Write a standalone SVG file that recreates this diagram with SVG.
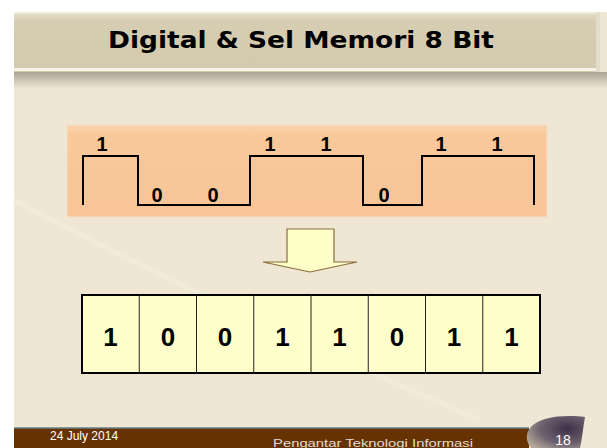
<svg xmlns="http://www.w3.org/2000/svg" width="607" height="448" viewBox="0 0 607 448">
<defs>
<linearGradient id="shadow" x1="0" y1="0" x2="0" y2="1">
<stop offset="0" stop-color="#a9a396"/>
<stop offset="1" stop-color="#ece4cf"/>
</linearGradient>
<linearGradient id="titleg" x1="0" y1="0" x2="0" y2="1">
<stop offset="0" stop-color="#e6dfc9"/>
<stop offset="0.15" stop-color="#d6cdb3"/>
<stop offset="1" stop-color="#d2c9ae"/>
</linearGradient>
<linearGradient id="orange" x1="0" y1="0" x2="0" y2="1">
<stop offset="0" stop-color="#fbd3ad"/>
<stop offset="0.1" stop-color="#f9c89b"/>
<stop offset="1" stop-color="#f7c597"/>
</linearGradient>
<radialGradient id="swoosh" cx="0.7" cy="0.4" r="0.8">
<stop offset="0" stop-color="#3d3048"/>
<stop offset="0.6" stop-color="#6e6370"/>
<stop offset="1" stop-color="#b6a99a"/>
</radialGradient>
<style>
.wl{font-family:"Liberation Sans",Arial,sans-serif;font-weight:bold;font-size:20px;fill:#000;text-anchor:middle}
.cl{font-family:"Liberation Sans",Arial,sans-serif;font-weight:bold;font-size:26px;fill:#000;text-anchor:middle}
</style>
</defs>
<rect width="607" height="448" fill="#ffffff"/>
<rect x="14" y="12" width="593" height="436" fill="#efe7d3"/>
<path d="M14 200 Q200 300 480 420" fill="none" stroke="#f5efe0" stroke-width="5" opacity="0.5"/>
<rect x="14" y="72" width="593" height="16" fill="url(#shadow)"/>
<g id="title">
<rect x="14" y="12" width="586" height="60" fill="url(#titleg)"/>
<rect x="14" y="12" width="586" height="2" fill="#f2ecdc"/>
<rect x="14" y="68" width="586" height="3" fill="#f6f2e6"/>
<rect x="596" y="12" width="4" height="60" fill="#e2dccb"/>
<text x="301" y="48" font-family="DejaVu Sans,Verdana,sans-serif" font-weight="bold" font-size="23" text-anchor="middle" textLength="386" lengthAdjust="spacingAndGlyphs" fill="#000">Digital &amp; Sel Memori 8 Bit</text>
</g>
<g id="signal">
<rect x="67" y="125" width="480" height="92" fill="url(#orange)" stroke="#f3e2cc" stroke-width="1"/>
<polyline points="83,205 83,156 138,156 138,205 250,205 250,156 363,156 363,205 422,205 422,156 534,156 534,205" fill="none" stroke="#000" stroke-width="2"/>
<text class="wl" x="102" y="151">1</text>
<text class="wl" x="157" y="202">0</text>
<text class="wl" x="213" y="202">0</text>
<text class="wl" x="270" y="151">1</text>
<text class="wl" x="326" y="151">1</text>
<text class="wl" x="384" y="202">0</text>
<text class="wl" x="441" y="151">1</text>
<text class="wl" x="497" y="151">1</text>
</g>
<g id="connectors">
<polygon points="287,229 334,229 334,262 357,262 310,272 263,262 287,262" fill="#ffffc8" stroke="#8b6b3d" stroke-width="1.2"/>
</g>
<g id="memory">
<rect x="82" y="295" width="458" height="78" fill="#ffffcc" stroke="#000" stroke-width="2"/>
<g stroke="#222" stroke-width="1">
<line x1="139.25" y1="295" x2="139.25" y2="373"/>
<line x1="196.5" y1="295" x2="196.5" y2="373"/>
<line x1="253.75" y1="295" x2="253.75" y2="373"/>
<line x1="311" y1="295" x2="311" y2="373"/>
<line x1="368.25" y1="295" x2="368.25" y2="373"/>
<line x1="425.5" y1="295" x2="425.5" y2="373"/>
<line x1="482.75" y1="295" x2="482.75" y2="373"/>
</g>
<text class="cl" x="110.6" y="346">1</text>
<text class="cl" x="167.9" y="346">0</text>
<text class="cl" x="225.1" y="346">0</text>
<text class="cl" x="282.4" y="346">1</text>
<text class="cl" x="339.6" y="346">1</text>
<text class="cl" x="396.9" y="346">0</text>
<text class="cl" x="454.1" y="346">1</text>
<text class="cl" x="511.4" y="346">1</text>
</g>
<g id="footer">
<rect x="14" y="428" width="515" height="20" fill="#663300"/>
<rect x="14" y="427" width="515" height="1.5" fill="#7f9ea3"/>
<path d="M531 448 C522 436 528 424 545 419 C560 415 575 416 585 417 C583 428 582 440 580 448 Z" fill="url(#swoosh)"/>
<text x="50" y="440" font-family="Liberation Sans,Arial,sans-serif" font-size="12" fill="#ffffff">24 July 2014</text>
<text x="373" y="447" font-family="Liberation Sans,Arial,sans-serif" font-size="11" fill="#e0dcd6" text-anchor="middle" textLength="200" lengthAdjust="spacingAndGlyphs">Pengantar Teknologi Informasi</text>
<text x="563" y="445" font-family="Liberation Sans,Arial,sans-serif" font-size="14" fill="#ffffff" text-anchor="middle">18</text>
</g>
</svg>
